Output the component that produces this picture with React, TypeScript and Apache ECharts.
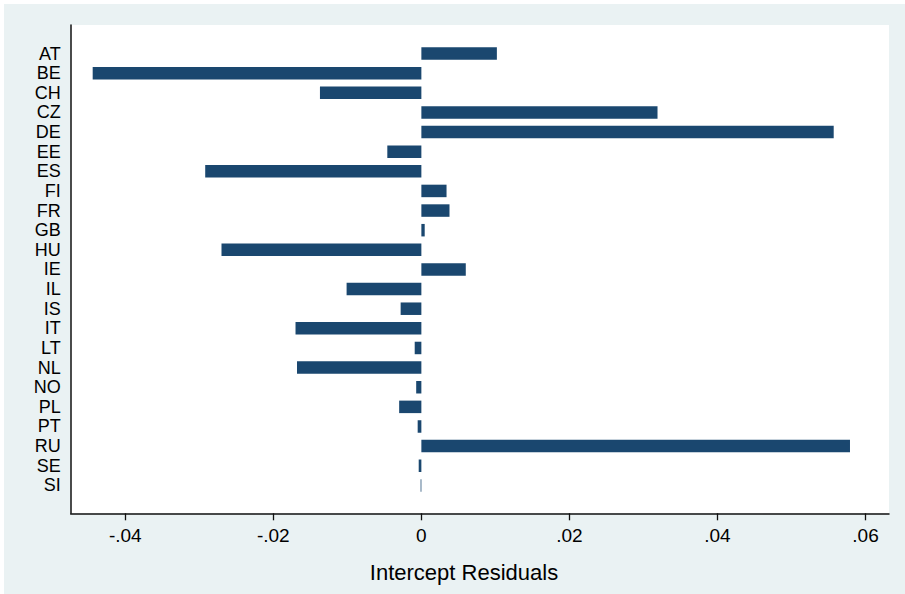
import React, { useEffect, useRef } from "react";
import * as echarts from "echarts";

const countries = ["AT","BE","CH","CZ","DE","EE","ES","FI","FR","GB","HU","IE","IL","IS","IT","LT","NL","NO","PL","PT","RU","SE","SI"];
const residuals = [0.0102,-0.0444,-0.0137,0.0319,0.0557,-0.0046,-0.0292,0.0034,0.0038,0.00045,-0.0270,0.0060,-0.0101,-0.0028,-0.0170,-0.0009,-0.0168,-0.0007,-0.0030,-0.0005,0.0579,-0.00036,-0.0001];
const xTicks = [-0.04,-0.02,0,0.02,0.04,0.06];
const xTitle = "Intercept Residuals";

const X_MIN = -0.04737;
const X_MAX = 0.06317;
const FONT = "'Liberation Sans', Arial, Helvetica, sans-serif";

export default function App() {
  const ref = useRef<HTMLDivElement>(null);
  useEffect(() => {
    document.body.style.margin = "0";
    if (!ref.current) return;
    const chart = echarts.init(ref.current, null, { renderer: "svg" });
    const fmt = (v: number) => (v === 0 ? "0" : v.toFixed(2).replace("0.", "."));
    chart.setOption({
      animation: false,
      backgroundColor: "#eaf2f3",
      textStyle: { fontFamily: FONT },
      grid: [
        { left: 66.7, right: 16, top: 21, height: 488.3, show: true, backgroundColor: "#ffffff", borderWidth: 0 },
        { left: 66.7, right: 16, top: 39.7, height: 451.5, show: false },
      ],
      xAxis: [
        {
          type: "value", gridIndex: 0, min: X_MIN, max: X_MAX,
          axisLine: { show: true, onZero: false, lineStyle: { color: "#111", width: 1.5 } },
          axisTick: { show: true, length: 7, customValues: xTicks, lineStyle: { color: "#111", width: 1.3 } },
          axisLabel: { customValues: xTicks, formatter: fmt, fontSize: 19, color: "#000", margin: 13, fontFamily: FONT },
          splitLine: { show: false },
        },
        {
          type: "value", gridIndex: 1, min: X_MIN, max: X_MAX,
          axisLine: { show: false }, axisTick: { show: false }, axisLabel: { show: false }, splitLine: { show: false },
        },
      ],
      yAxis: [
        {
          type: "value", gridIndex: 0, min: 0, max: 1,
          axisLine: { show: true, onZero: false, lineStyle: { color: "#111", width: 1.5 } },
          axisTick: { show: false }, axisLabel: { show: false }, splitLine: { show: false },
        },
        {
          type: "category", gridIndex: 1, data: countries, inverse: true,
          axisLine: { show: false }, axisTick: { show: false },
          axisLabel: { interval: 0, fontSize: 18, lineHeight: 18, color: "#000", margin: 10, fontFamily: FONT },
          splitLine: { show: false },
        },
      ],
      graphic: [
        {
          type: "text", x: 460, y: 568,
          style: { text: xTitle, fill: "#000", font: `22px ${FONT}`, textAlign: "center", textVerticalAlign: "middle" },
        },
      ],
      series: [
        {
          type: "bar", xAxisIndex: 1, yAxisIndex: 1, data: residuals,
          barWidth: 12.5, itemStyle: { color: "#1a476f" },
        },
      ],
    });
    return () => chart.dispose();
  }, []);
  return (
    <div style={{ width: 905, height: 594, background: "#fff", position: "relative" }}>
      <div ref={ref} style={{ position: "absolute", left: 4, top: 4, width: 901, height: 590 }} />
    </div>
  );
}
